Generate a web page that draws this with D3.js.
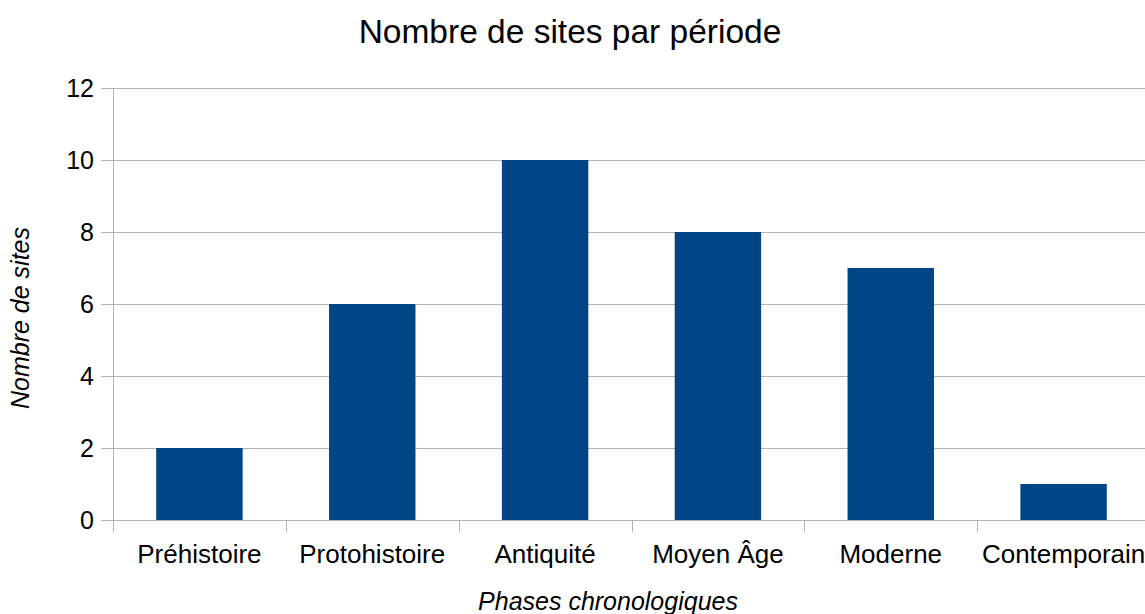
<!DOCTYPE html>
<html>
<head>
<meta charset="utf-8">
<script src="https://cdn.jsdelivr.net/npm/d3@7"></script>
<style>
  html, body { margin: 0; padding: 0; background: #fff; overflow: hidden; }
  svg { display: block; font-family: "Liberation Sans", Arial, sans-serif; }
</style>
</head>
<body>
<svg id="chart" width="1145" height="614"></svg>
<script>
// Chart data
const categories = ["Préhistoire", "Protohistoire", "Antiquité", "Moyen Âge", "Moderne", "Contemporain"];
const values = [2, 6, 10, 8, 7, 1];
const yTicks = [0, 2, 4, 6, 8, 10, 12];

const titleText = "Nombre de sites par période";
const xTitleText = "Phases chronologiques";
const yTitleText = "Nombre de sites";

(function drawChart() {
  const svg = d3.select("#chart");
  const plotLeft = 113, plotRight = 1150, plotTop = 88, plotBottom = 520;
  const gridColor = "#b3b3b3";
  const barColor = "#004586";

  const x = d3.scaleBand().domain(categories).range([plotLeft, plotRight]).paddingInner(0).paddingOuter(0);
  const y = d3.scaleLinear().domain([0, 12]).range([plotBottom, plotTop]);

  // Horizontal gridlines with outward ticks
  svg.append("g").selectAll("line").data(yTicks).join("line")
    .attr("x1", plotLeft - 12).attr("x2", plotRight)
    .attr("y1", d => y(d) + 0.5).attr("y2", d => y(d) + 0.5)
    .attr("stroke", gridColor).attr("stroke-width", 1);

  // Y axis line
  svg.append("line")
    .attr("x1", plotLeft + 0.5).attr("x2", plotLeft + 0.5)
    .attr("y1", plotTop).attr("y2", plotBottom + 12)
    .attr("stroke", gridColor);

  // Category tick marks below the baseline
  const bounds = categories.map(c => x(c)).concat([plotRight]);
  svg.append("g").selectAll("line").data(bounds).join("line")
    .attr("x1", d => Math.round(d) + 0.5).attr("x2", d => Math.round(d) + 0.5)
    .attr("y1", plotBottom).attr("y2", plotBottom + 12)
    .attr("stroke", gridColor);

  // Bars
  const barW = x.bandwidth() / 2;
  svg.append("g").selectAll("rect").data(categories).join("rect")
    .attr("x", d => x(d) + x.bandwidth() / 2 - barW / 2)
    .attr("width", barW)
    .attr("y", (d, i) => y(values[i]))
    .attr("height", (d, i) => y(0) - y(values[i]))
    .attr("fill", barColor);

  // Y tick labels
  svg.append("g").selectAll("text").data(yTicks).join("text")
    .attr("x", 94).attr("y", d => y(d))
    .attr("dy", "0.36em")
    .attr("text-anchor", "end")
    .attr("font-size", 25)
    .attr("fill", "#000")
    .text(d => d);

  // Category labels
  svg.append("g").selectAll("text").data(categories).join("text")
    .attr("x", d => x(d) + x.bandwidth() / 2)
    .attr("y", 563)
    .attr("text-anchor", "middle")
    .attr("font-size", 26)
    .attr("fill", "#000")
    .text(d => d);

  // Title
  svg.append("text")
    .attr("x", 570).attr("y", 43)
    .attr("text-anchor", "middle")
    .attr("font-size", 33.5)
    .attr("fill", "#000")
    .text(titleText);

  // X axis title
  svg.append("text")
    .attr("x", 608).attr("y", 610)
    .attr("text-anchor", "middle")
    .attr("font-size", 25)
    .attr("font-style", "italic")
    .attr("fill", "#000")
    .text(xTitleText);

  // Y axis title
  svg.append("text")
    .attr("transform", "translate(29,318) rotate(-90)")
    .attr("text-anchor", "middle")
    .attr("font-size", 25)
    .attr("font-style", "italic")
    .attr("fill", "#000")
    .text(yTitleText);
})();
</script>
</body>
</html>
